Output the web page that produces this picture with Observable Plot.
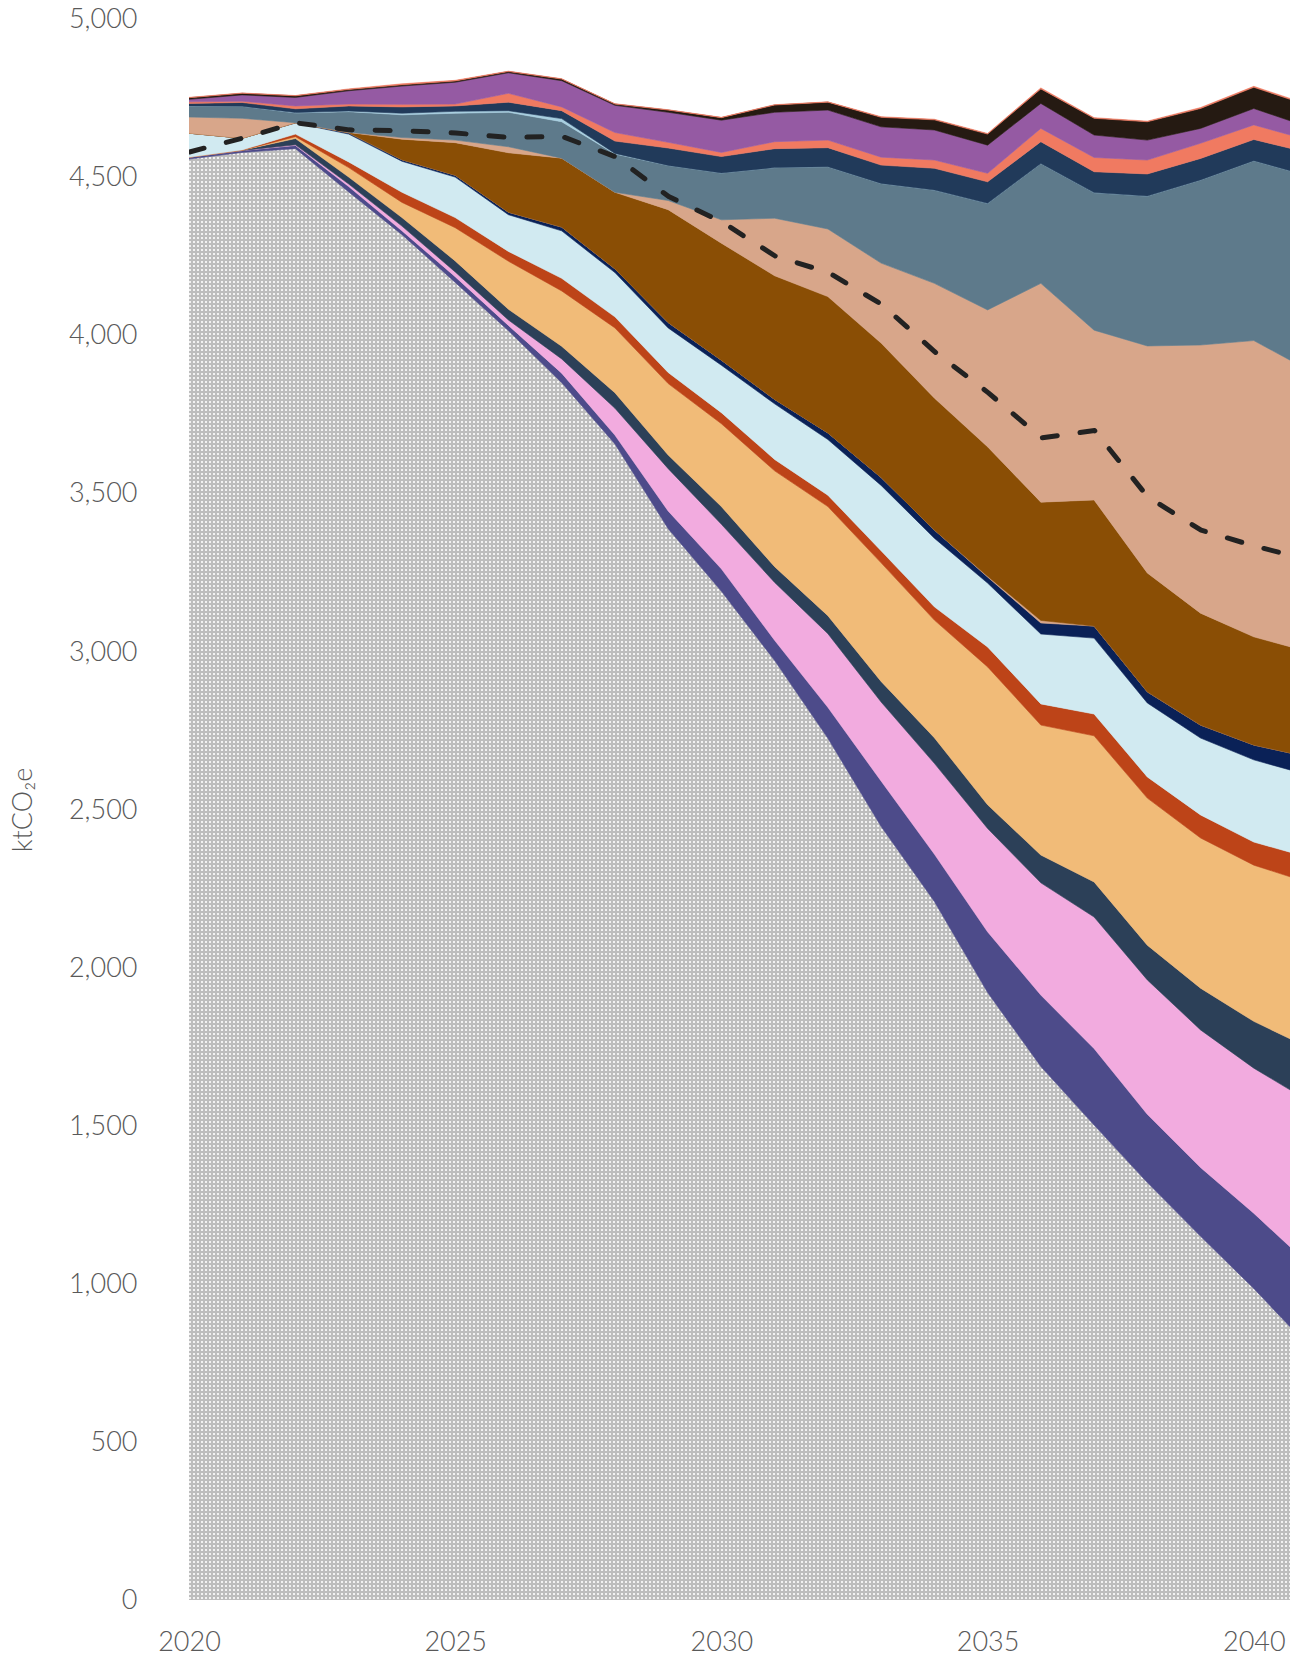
<!DOCTYPE html>
<html>
<head>
<meta charset="utf-8">
<script src="https://cdn.jsdelivr.net/npm/d3@7"></script>
<script src="https://cdn.jsdelivr.net/npm/@observablehq/plot@0.6"></script>
<style>
  html, body { margin: 0; padding: 0; background: #ffffff; }
  #chart { width: 1290px; height: 1658px; }
</style>
</head>
<body>
<div id="chart"></div>
<script>
// ---- data (ktCO2e), bottom layer first ----
const years = [2020,2021,2022,2023,2024,2025,2026,2027,2028,2029,2030,2031,2032,2033,2034,2035,2036,2037,2038,2039,2040,2041];

const grey      = [4557,4578,4590,4453,4318,4167,4014,3850,3656,3388,3190,2971,2725,2446,2209,1921,1687,1502,1320,1150,985,807];
const indigo    = [6,6,10,17,12,18,17,30,28,56,71,64,98,144,150,192,226,242,216,218,238,260];
const pink      = [0,0,2,8,15,15,17,45,85,134,141,183,233,250,287,327,355,416,425,435,459,514];
const slateDark = [0,1,20,22,27,35,34,40,49,43,56,50,57,65,81,75,88,111,110,132,148,168];
const orange    = [0,0,6,30,48,105,152,175,205,226,262,303,345,375,372,436,411,462,465,475,494,521];
const red       = [0,1,8,18,32,32,31,40,35,35,35,36,36,38,42,63,67,69,67,73,73,80];
const lightBlue = [76,37,35,88,98,128,116,150,140,141,150,176,176,207,217,202,221,240,234,243,260,260];
const navy      = [0,0,1,4,5,6,8,12,12,17,16,14,21,25,26,19,35,38,35,41,47,57];
const sliver    = [0,0,0,0,0,0,0,0,0,0,0,0,0,0,0,3,8,0,0,0,0,0];
const brown     = [0,0,0,1,65,103,188,218,242,357,370,391,431,425,417,409,374,399,376,354,342,333];
const tan       = [51,63,0,1,5,8,19,0,0,29,74,182,214,253,363,433,692,537,718,848,937,892];
const slate     = [35,38,31,65,72,85,109,115,121,111,148,160,197,252,295,337,379,435,474,522,569,613];
const steel     = [0,0,1,2,5,6,5,10,2,0,0,0,0,0,0,0,0,0,0,0,0,0];
const navyDark  = [8,12,12,16,20,17,27,25,39,55,52,60,60,58,69,68,69,66,70,68,67,73];
const salmon    = [5,4,9,6,8,6,28,12,27,18,13,22,24,25,26,27,42,45,44,48,46,40];
const purple    = [8,20,27,42,58,69,65,83,86,95,102,93,95,96,95,89,79,71,63,47,52,42];
const black     = [5,5,5,4,4,4,4,5,4,7,8,23,25,30,32,35,46,53,58,63,67,68];
const salmonTop = [1,1,1,2,3,2,1,1,1,1,1,1,1,2,2,2,3,2,2,3,3,3];

const dashed    = [4581,4625,4673,4651,4648,4641,4627,4630,4566,4440,4360,4252,4200,4099,3949,3820,3677,3700,3490,3385,3335,3292];

const layerNames  = ["grey","indigo","pink","slateDark","orange","red","lightBlue","navy","sliver","brown","tan","slate","steel","navyDark","salmon","purple","black","salmonTop"];
const layerValues = [grey,indigo,pink,slateDark,orange,red,lightBlue,navy,sliver,brown,tan,slate,steel,navyDark,salmon,purple,black,salmonTop];
const layerColors = ["url(#dots)","#4d4b8a","#f2abdf","#2c4058","#f1bb78","#bd4418","#d1eaf1","#0a2157","#d8a68a","#8a4e05","#d8a68a","#5e7a8b","#a8cfe0","#213a5a","#f07a61","#955aa3","#251a12","#f07a61"];

const yTicks = [0,500,1000,1500,2000,2500,3000,3500,4000,4500,5000];
const xTicks = [2020,2025,2030,2035,2040];
const yLabel = ["ktCO₂e"];

const table = layerNames.flatMap((name, j) => years.map((year, i) => ({year, name, value: layerValues[j][i]})));
const dashTable = years.map((year, i) => ({year, value: dashed[i]}));

const chart = Plot.plot({
  width: 1290,
  height: 1658,
  marginLeft: 189,
  marginRight: 0,
  marginTop: 19,
  marginBottom: 58,
  style: {fontFamily: "Lato, 'Open Sans', 'DejaVu Sans', sans-serif", fontSize: "27px", color: "#595959", fontWeight: 300, background: "#ffffff"},
  x: {domain: [2020, 2040.68], ticks: xTicks, tickFormat: d => String(d), tickSize: 0, tickPadding: 31, label: null},
  y: {domain: [0, 5000], ticks: yTicks, tickFormat: d3.format(","), tickSize: 0, tickPadding: 52, label: null},
  color: {type: "ordinal", domain: layerNames, range: layerColors},
  marks: [
    Plot.areaY(table, {x: "year", y: "value", z: "name", fill: "name", stroke: "name", strokeWidth: 0.6, clip: "frame"}),
    Plot.lineY(dashTable, {x: "year", y: "value", stroke: "#222222", strokeWidth: 5, strokeDasharray: "15,23", strokeLinecap: "round", clip: "frame"}),
    Plot.text(yLabel, {frameAnchor: "left", textAnchor: "middle", text: d => d, rotate: -90, dx: -166, fontSize: 27, fill: "#595959"})
  ]
});

d3.select(chart).insert("defs", ":first-child").html(
  '<pattern id="dots" patternUnits="userSpaceOnUse" width="4" height="4">' +
  '<rect width="4" height="4" fill="#bdbdbd"></rect>' +
  '<rect x="1" y="1" width="2" height="2" fill="#f2f2f2"></rect>' +
  '</pattern>'
);

document.getElementById("chart").appendChild(chart);
</script>
</body>
</html>
